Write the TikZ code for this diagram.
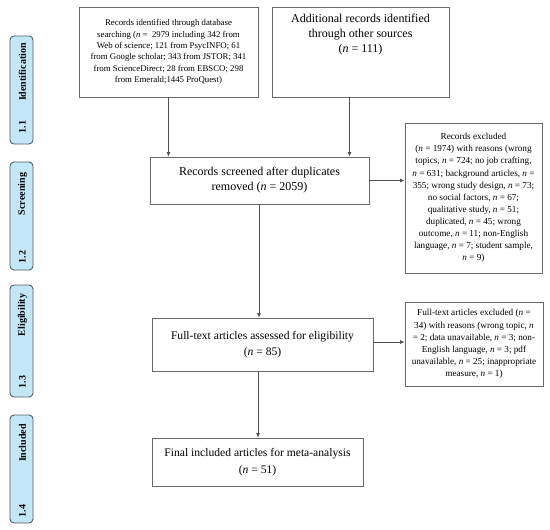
\documentclass[tikz,border=0pt]{standalone}
\usepackage{fontspec}
\setmainfont{Liberation Serif}
\usetikzlibrary{arrows.meta,calc}
\definecolor{barfill}{HTML}{C4E7F8}
\definecolor{barline}{HTML}{4F5E6B}
\definecolor{boxline}{HTML}{6A6A6A}
\definecolor{conn}{HTML}{505050}
\begin{document}
\begin{tikzpicture}[x=1pt,y=-1pt,
  box/.style={draw=boxline, line width=0.8pt, rectangle, inner sep=0pt, align=center},
  small/.style={font=\fontsize{8.8}{11.3}\selectfont},
  smallx/.style={font=\fontsize{9.2}{12.1}\selectfont},
  big/.style={font=\fontsize{12}{15}\selectfont},
  bigx/.style={font=\fontsize{11.6}{16.5}\selectfont},
  bar/.style={draw=barline, fill=barfill, line width=0.9pt, rounded corners=4pt, minimum width=23pt, inner sep=0pt},
  barlab/.style={rotate=90, font=\bfseries\fontsize{10}{12}\selectfont, inner sep=0pt},
  arr/.style={draw=conn, line width=0.8pt, -{Latex[length=4.5pt,width=4pt]}}]
\useasboundingbox (0,0) rectangle (550,530);
% side bars
\node[bar, minimum height=108pt] (bar1) at (21.5,90) {};
\node[bar, minimum height=108pt] (bar2) at (21.5,216) {};
\node[bar, minimum height=112pt] (bar3) at (21.5,341) {};
\node[bar, minimum height=108pt] (bar4) at (21.5,469) {};
\node[barlab] (lab1) at (22.5,72) {Identification};
\node[barlab] (num1) at (22.5,127) {1.1};
\node[barlab] (lab2) at (22.5,194) {Screening};
\node[barlab] (num2) at (22.5,257) {1.2};
\node[barlab] (lab3) at (22.5,315) {Eligibility};
\node[barlab] (num3) at (22.5,382) {1.3};
\node[barlab] (lab4) at (22.5,443) {Included};
\node[barlab] (num4) at (22.5,511) {1.4};
% boxes
\node[box, small, minimum width=179pt, minimum height=90pt] (id1) at (168.5,52)
 {Records identified through database\\
  searching (\textit{n} =~ 2979 including 342 from\\
  Web of science; 121 from PsycINFO; 61\\
  from Google scholar; 343 from JSTOR; 341\\
  from ScienceDirect; 28 from EBSCO; 298\\
  from Emerald;1445 ProQuest)};
\node[box, minimum width=177pt, minimum height=90pt] (id2) at (360.5,52) {};
\node[big, align=center, anchor=north, inner sep=0pt] (id2t) at (360.5,14)
 {Additional records identified\\ through other sources\\ (\textit{n} = 111)};
\node[box, big, minimum width=219pt, minimum height=47pt] (scr) at (259.5,180.5)
 {Records screened after duplicates\\ removed (\textit{n} = 2059)};
\node[box, smallx, minimum width=137pt, minimum height=150pt] (ex1) at (473.5,198)
 {Records excluded\\
  (\textit{n} = 1974) with reasons (wrong\\
  topics, \textit{n} = 724; no job crafting,\\
  \textit{n} = 631; background articles, \textit{n} =\\
  355; wrong study design, \textit{n} = 73;\\
  no social factors, \textit{n} = 67;\\
  qualitative study, \textit{n} = 51;\\
  duplicated, \textit{n} = 45; wrong\\
  outcome, \textit{n} = 11; non-English\\
  language, \textit{n} = 7; student sample,\\
  \textit{n} = 9)};
\node[box, bigx, minimum width=221pt, minimum height=53pt] (ass) at (262.5,344.5)
 {Full-text articles assessed for eligibility\\ (\textit{n} = 85)};
\node[box, smallx, minimum width=138pt, minimum height=84pt] (ex2) at (474,344)
 {Full-text articles excluded (\textit{n} =\\
  34) with reasons (wrong topic, \textit{n}\\
  = 2; data unavailable, \textit{n} = 3; non-\\
  English language, \textit{n} = 3; pdf\\
  unavailable, \textit{n} = 25; inappropriate\\
  measure, \textit{n} = 1)};
\node[box, bigx, minimum width=211pt, minimum height=48pt] (fin) at (257.5,462)
 {Final included articles for meta-analysis\\ (\textit{n} = 51)};
% connectors
\draw[arr] (id1.south) -- (id1.south |- scr.north);
\draw[arr] ([xshift=-11pt]id2.south) -- ([xshift=-11pt]id2.south |- scr.north);
\draw[arr] (scr.east) -- (scr.east -| ex1.west);
\draw[arr] ([xshift=-0.5pt]scr.south) -- ([xshift=-0.5pt]scr.south |- ass.north);
\draw[arr] ([yshift=2.5pt]ass.east) -- ([yshift=2.5pt]ass.east -| ex2.west);
\draw[arr] ([xshift=-4.5pt]ass.south) -- ([xshift=-4.5pt]ass.south |- fin.north);
\end{tikzpicture}
\end{document}
